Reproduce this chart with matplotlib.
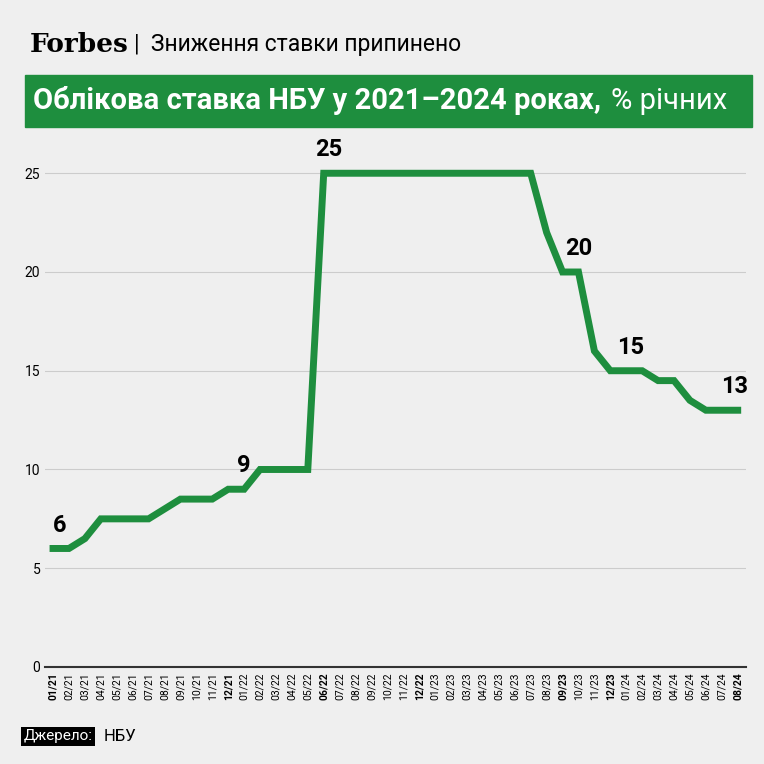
import matplotlib
matplotlib.use("Agg")
import matplotlib.pyplot as plt

months = [f"{m:02d}/{y}" for y in (21, 22, 23, 24) for m in range(1, 13)][:44]
rate = [6, 6, 6.5, 7.5, 7.5, 7.5, 7.5, 8, 8.5, 8.5, 8.5, 9,
        9, 10, 10, 10, 10, 25, 25, 25, 25, 25, 25, 25,
        25, 25, 25, 25, 25, 25, 25, 22, 20, 20, 16, 15,
        15, 15, 14.5, 14.5, 13.5, 13, 13, 13]
bold = {"01/21", "12/21", "06/22", "12/22", "09/23", "12/23", "08/24"}
# label text, x position (month index), value index
callouts = [("6", 0.4, 0), ("9", 12, 12), ("25", 17.3, 17), ("20", 33, 33),
            ("15", 36.3, 36), ("13", 42.8, 43)]

plt.rcParams["font.family"] = ["Roboto", "DejaVu Sans"]
GREEN = "#1e8e3e"
BG = "#efefef"
fig = plt.figure(figsize=(7.64, 7.64), dpi=100, facecolor=BG)

fig.text(0.039, 0.942, "Forbes", family="DejaVu Serif", weight="bold", fontsize=19, va="center")
fig.text(0.176, 0.942, "|  Зниження ставки припинено", fontsize=16.5, va="center")
fig.patches.append(plt.Rectangle((0.033, 0.834), 0.951, 0.068, transform=fig.transFigure,
                                 color=GREEN, zorder=0))
fig.text(0.043, 0.868, "Облікова ставка НБУ у 2021–2024 роках,", fontsize=21,
             weight="bold", color="white", va="center")
fig.text(0.8, 0.868, "% річних", fontsize=21, color="white", va="center", ha="left")

ax = fig.add_axes([0.059, 0.127, 0.917, 0.685], facecolor=BG)
x = list(range(len(months)))
ax.plot(x, rate, color=GREEN, lw=5, solid_joinstyle="miter", zorder=3)
for s, xi, vi in callouts:
    ax.text(xi, rate[vi] + 0.6, s, ha="center", va="bottom", fontsize=17, weight="bold")
ax.set_ylim(0, 26.5)
ax.set_xlim(-0.5, 43.5)
ax.set_yticks([0, 5, 10, 15, 20, 25])
ax.grid(axis="y", color="#cccccc", lw=0.8)
ax.set_xticks(x)
ax.set_xticklabels(months, rotation=90, fontsize=7.5)
for lab in ax.get_xticklabels():
    if lab.get_text() in bold:
        lab.set_fontweight("bold")
ax.tick_params(length=0, labelsize=10)
ax.tick_params(axis="x", labelsize=7.5, pad=4)
for sp in ["top", "right", "left"]:
    ax.spines[sp].set_visible(False)
ax.spines["bottom"].set_color("#333333")
ax.spines["bottom"].set_linewidth(1.5)

fig.text(0.031, 0.036, "Джерело:", fontsize=11, color="white", va="center",
         bbox=dict(facecolor="black", edgecolor="none", pad=2))
fig.text(0.135, 0.036, "НБУ", fontsize=12, va="center")
fig.savefig("out.png", dpi=100, facecolor=BG)
